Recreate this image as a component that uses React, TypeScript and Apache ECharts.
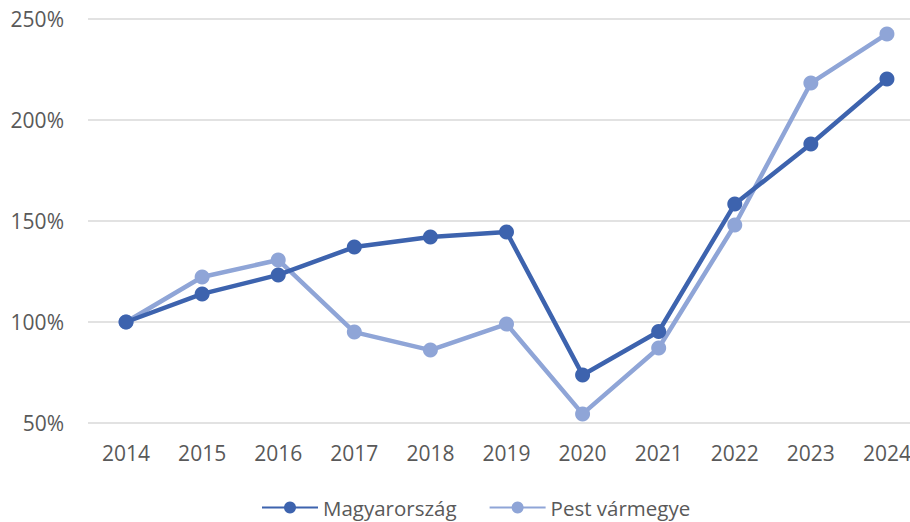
import React, { useEffect, useRef } from "react";
import * as echarts from "echarts";

const years = ["2014", "2015", "2016", "2017", "2018", "2019", "2020", "2021", "2022", "2023", "2024"];
const magyarorszag = [100, 113.9, 123.3, 137.1, 142.1, 144.6, 73.8, 95.3, 158.4, 188.1, 220.3];
const pest = [100, 122.3, 130.7, 95, 86.1, 99, 54.5, 87.1, 148, 218.3, 242.6];
const yTicks = { min: 50, max: 250, interval: 50 };

export default function App() {
  const ref = useRef<HTMLDivElement>(null);
  useEffect(() => {
    if (!ref.current) return;
    const chart = echarts.init(ref.current, undefined, { renderer: "svg" });
    const font = "'Open Sans', sans-serif";
    chart.setOption({
      animation: false,
      textStyle: { fontFamily: font },
      grid: { left: 88, right: 0, top: 19, bottom: 99, containLabel: false },
      legend: {
        top: 492,
        left: 256,
        itemWidth: 56,
        itemHeight: 15,
        itemGap: 32,
        textStyle: { color: "#595959", fontSize: 20.5, fontFamily: font },
        data: ["Magyarorsz\u00e1g", "Pest v\u00e1rmegye"],
      },
      xAxis: {
        type: "category",
        data: years,
        boundaryGap: true,
        axisLine: { show: false },
        axisTick: { show: false },
        axisLabel: { color: "#595959", fontSize: 21, margin: 19, fontFamily: font },
      },
      yAxis: {
        type: "value",
        min: yTicks.min,
        max: yTicks.max,
        interval: yTicks.interval,
        axisLine: { show: false },
        axisTick: { show: false },
        axisLabel: {
          color: "#595959",
          fontSize: 21,
          margin: 24,
          fontFamily: font,
          formatter: (v: number) => v + "%",
        },
        splitLine: { lineStyle: { color: "#D9D9D9", width: 1.5 } },
      },
      series: [
        {
          name: "Magyarorsz\u00e1g",
          type: "line",
          data: magyarorszag,
          symbol: "circle",
          symbolSize: 15,
          z: 3,
          itemStyle: { color: "#3D63AE" },
          lineStyle: { color: "#3D63AE", width: 4.5 },
        },
        {
          name: "Pest v\u00e1rmegye",
          type: "line",
          data: pest,
          symbol: "circle",
          symbolSize: 15,
          z: 2,
          itemStyle: { color: "#8FA5D7" },
          lineStyle: { color: "#8FA5D7", width: 4.5 },
        },
      ],
    });
    return () => chart.dispose();
  }, []);
  return (
    <div style={{ position: "absolute", left: 0, top: 0, width: 910, height: 522, overflow: "hidden", background: "#fff" }}>
      <div ref={ref} style={{ width: 925, height: 522 }} />
    </div>
  );
}
